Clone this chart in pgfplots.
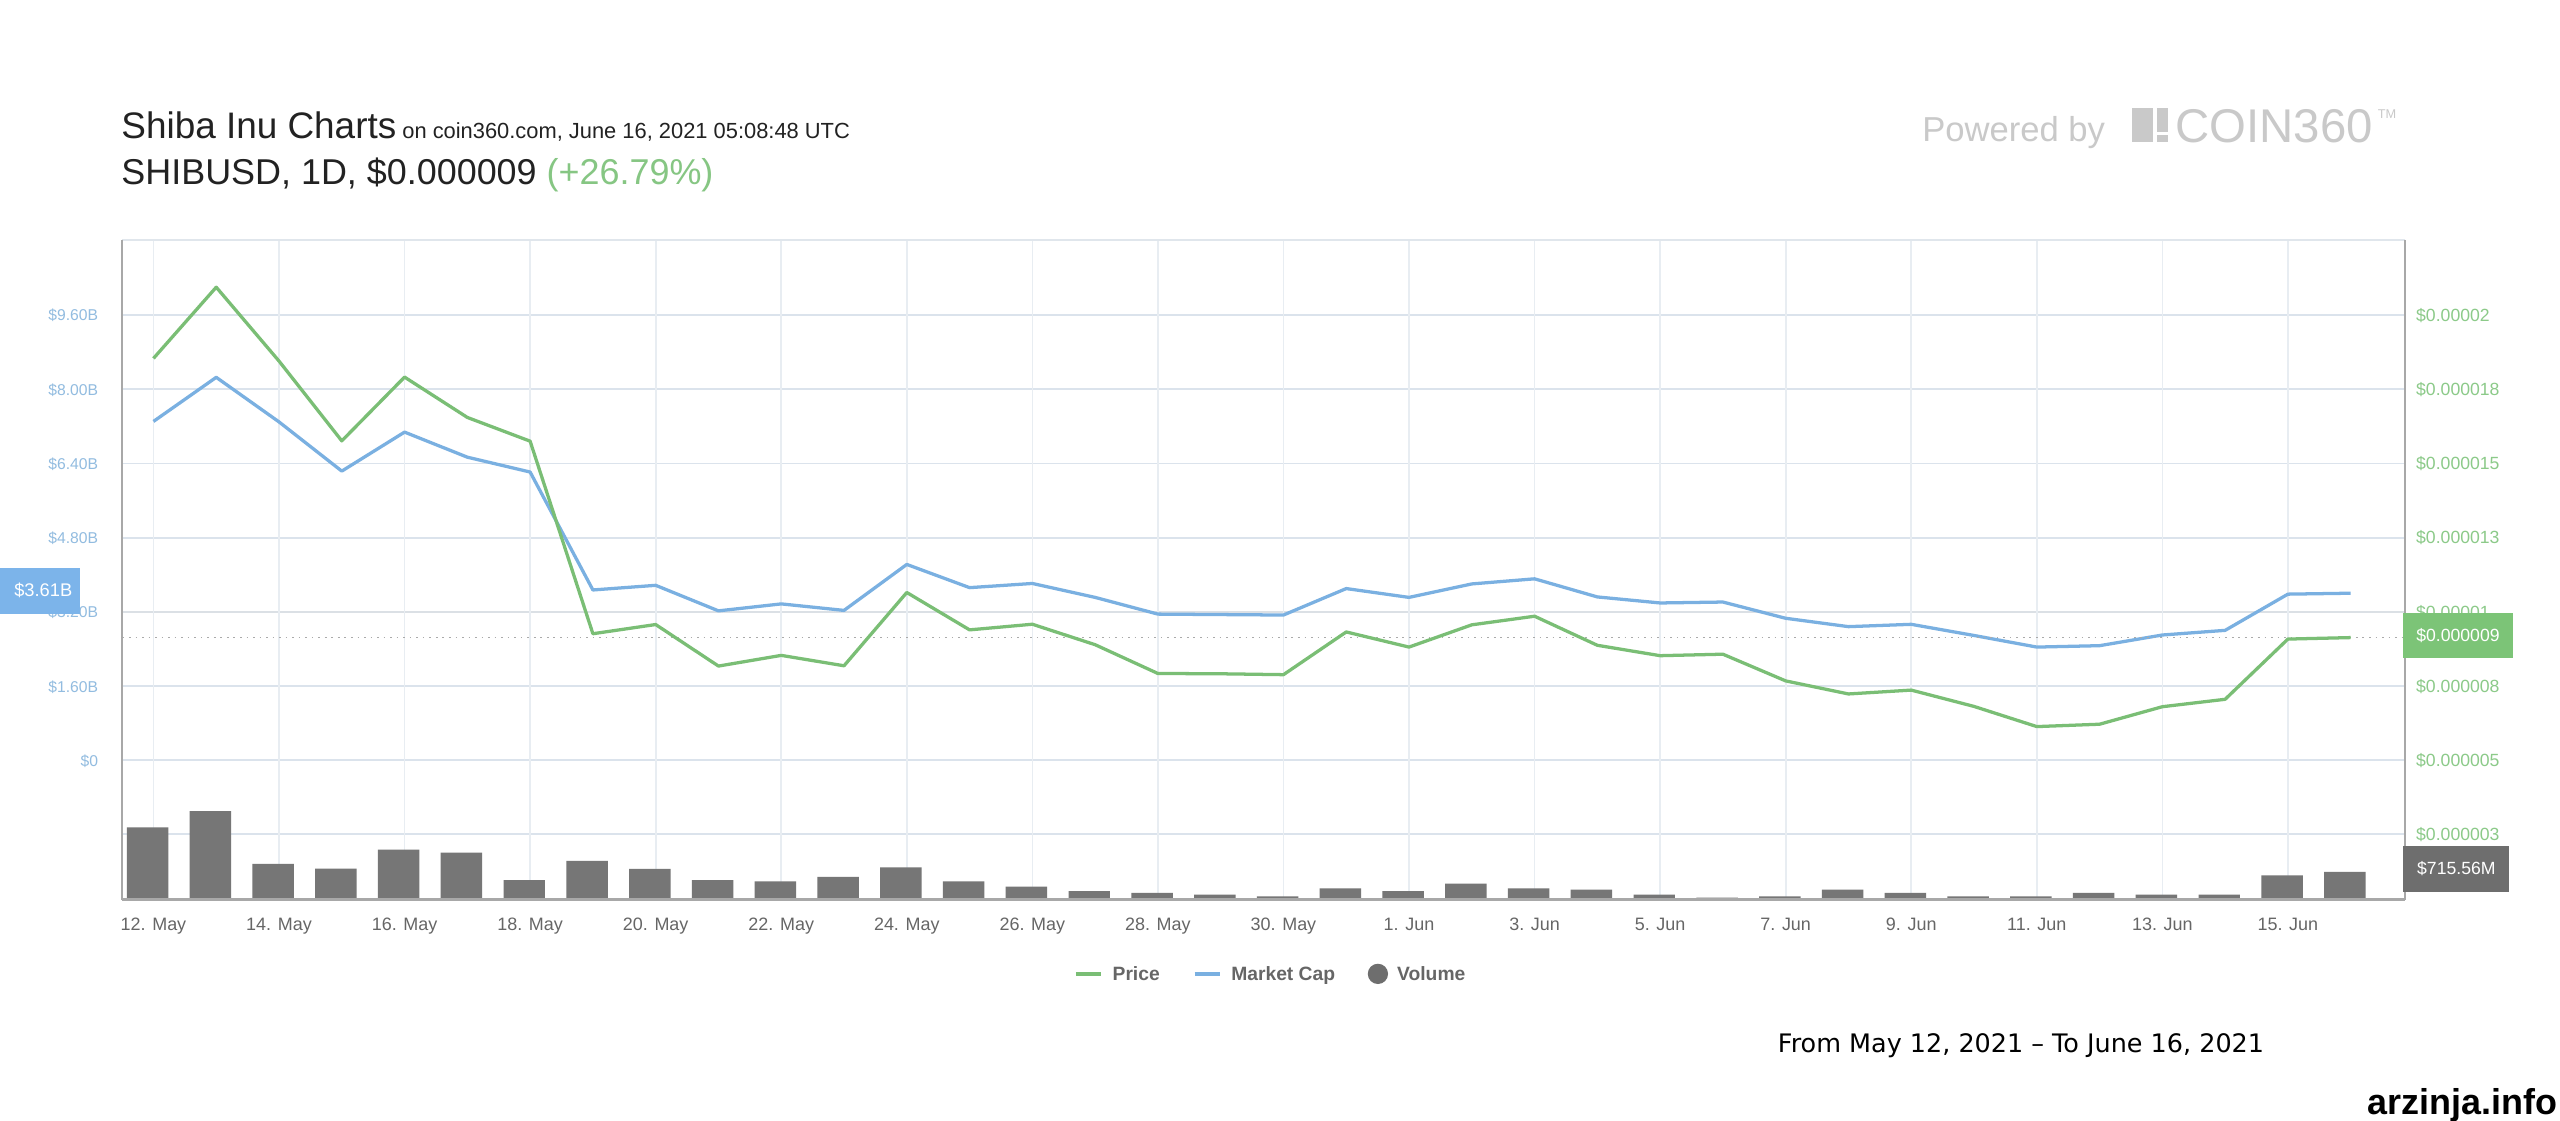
\documentclass[border=0pt]{standalone}
\usepackage{fontspec}
\setmainfont{Liberation Sans}
\newfontfamily\dejavu{DejaVu Sans}
\usepackage{pgfplots}
\pgfplotsset{compat=1.18}

\definecolor{priceGreen}{RGB}{122,190,117}
\definecolor{capBlue}{RGB}{122,176,225}
\definecolor{barGray}{RGB}{118,118,118}
\definecolor{capLabel}{RGB}{146,188,224}
\definecolor{priceLabel}{RGB}{140,202,137}
\definecolor{hgrid}{RGB}{219,227,236}
\definecolor{hgridDark}{RGB}{219,224,229}
\definecolor{vgrid}{RGB}{232,237,242}
\definecolor{tickGray}{RGB}{102,102,102}
\definecolor{legGray}{RGB}{102,102,102}
\definecolor{logoGray}{RGB}{201,201,201}
\definecolor{titleText}{RGB}{34,34,34}
\definecolor{pctGreen}{RGB}{134,198,131}
\definecolor{boxBlue}{RGB}{124,180,234}
\definecolor{boxGreen}{RGB}{124,196,119}
\definecolor{boxGray}{RGB}{110,110,110}
\definecolor{frameGray}{RGB}{168,168,168}
\definecolor{topGray}{RGB}{224,230,236}
\definecolor{dotGray}{RGB}{170,170,170}

\pgfplotstableread{
d v
0 7.31
1 8.26
2 7.30
3 6.24
4 7.08
5 6.54
6 6.22
7 3.68
8 3.78
9 3.23
10 3.38
11 3.24
12 4.23
13 3.73
14 3.82
15 3.52
16 3.16
17 3.15
18 3.14
19 3.71
20 3.52
21 3.81
22 3.92
23 3.53
24 3.40
25 3.42
26 3.07
27 2.89
28 2.94
29 2.70
30 2.45
31 2.48
32 2.71
33 2.81
34 3.59
35 3.61
}\captable

\pgfplotstableread{
d p
0 18.54
1 20.94
2 18.45
3 15.76
4 17.91
5 16.55
6 15.75
7 9.26
8 9.57
9 8.17
10 8.53
11 8.18
12 10.65
13 9.39
14 9.58
15 8.89
16 7.92
17 7.91
18 7.88
19 9.32
20 8.81
21 9.56
22 9.85
23 8.87
24 8.52
25 8.57
26 7.67
27 7.23
28 7.36
29 6.81
30 6.13
31 6.21
32 6.80
33 7.05
34 9.08
35 9.13
}\pricetable

\pgfplotstableread{
d vol
0 1872
1 2287
2 922
3 803
4 1293
5 1217
6 507
7 1002
8 795
9 507
10 473
11 588
12 837
13 473
14 338
15 216
16 173
17 131
18 85
19 292
20 216
21 414
22 292
23 258
24 131
25 51
26 85
27 258
28 173
29 85
30 85
31 173
32 131
33 131
34 630
35 716
}\voltable

\pgfplotsset{
 base/.style={at={(37.5pt,67.5pt)}, anchor=south west, width=699pt, height=202pt,
   scale only axis, xmin=-0.494, xmax=35.864, axis line style={draw=none},
   major tick length=0pt, tick style={draw=none}},
}

\begin{document}
\begin{tikzpicture}
\useasboundingbox (0,0) rectangle (784pt,343pt);
\fill[white] (0,0) rectangle (784pt,343pt);

% Axis A: horizontal grid and price labels (right)
\begin{axis}[base, ymin=0.299, ymax=22.531, xtick=\empty,
  ytick={2.5,5,7.5,10,12.5,15,17.5,20},
  yticklabels={\$0.000003,\$0.000005,\$0.000008,\$0.00001,\$0.000013,\$0.000015,\$0.000018,\$0.00002},
  ytick pos=right, yticklabel pos=right,
  ymajorgrids, major grid style={hgrid, line width=0.55pt},
  yticklabel style={font=\fontsize{5.4}{6}\selectfont, text=priceLabel, anchor=base west,
    inner sep=0pt, xshift=3.25pt, yshift=-1.93pt}]
\addplot[hgridDark, line width=0.75pt, forget plot] coordinates {(-0.494,10) (35.864,10)};
\end{axis}

% Axis B: volume bars, vertical grid, date labels
\begin{axis}[base, ymin=0, ymax=17075, ytick=\empty,
  xtick={0,2,...,34},
  xticklabels={12. May,14. May,16. May,18. May,20. May,22. May,24. May,26. May,28. May,30. May,1. Jun,3. Jun,5. Jun,7. Jun,9. Jun,11. Jun,13. Jun,15. Jun},
  xmajorgrids, major grid style={vgrid, line width=0.5pt},
  xticklabel style={font=\fontsize{5.5}{6}\selectfont, text=tickGray, anchor=base,
    inner sep=0pt, yshift=-9.45pt}]
\addplot[ybar, bar width=12.7pt, bar shift=-1.8pt, fill=barGray, draw=none] table[x=d, y=vol] {\voltable};
\end{axis}

% Axis C: market cap (left)
\begin{axis}[base, ymin=-2.989, ymax=11.218, xtick=\empty,
  ytick={0,1.6,3.2,4.8,6.4,8,9.6},
  yticklabels={\$0,\$1.60B,\$3.20B,\$4.80B,\$6.40B,\$8.00B,\$9.60B},
  ytick pos=left,
  yticklabel style={font=\fontsize{4.8}{6}\selectfont, text=capLabel, anchor=base east,
    inner sep=0pt, xshift=-7.25pt, yshift=-1.72pt}]
\addplot[capBlue, line width=1pt, line join=round] table[x=d, y=v] {\captable};
\end{axis}

% Axis D: price line, current price line, legend
\begin{axis}[base, ymin=0.299, ymax=22.531, xtick=\empty, ytick=\empty,
  legend style={at={(0.41652,-0.11262)}, anchor=west, draw=none, fill=none, inner sep=0pt,
    legend columns=-1, font=\fontsize{5.9}{7}\selectfont\bfseries, text=legGray,
    nodes={inner sep=0pt, text depth=0pt},
    /tikz/every odd column/.append style={column sep=2.8pt},
    /tikz/every even column/.append style={column sep=10pt}}]
\addlegendimage{legend image code/.code={\draw[priceGreen, line width=1.3pt] (0pt,0pt) -- (7.8pt,0pt);}}
\addlegendimage{legend image code/.code={\draw[capBlue, line width=1.3pt] (0pt,0pt) -- (7.8pt,0pt);}}
\addlegendimage{legend image code/.code={\fill[boxGray] (2.9pt,0pt) circle (2.9pt);}}
\addplot[dotGray, line width=0.5pt, dash pattern=on 0.5pt off 1.5pt, forget plot] coordinates {(-0.494,9.13) (35.864,9.13)};
\addplot[priceGreen, line width=1pt, line join=round, forget plot] table[x=d, y=p] {\pricetable};
\legend{Price,Market Cap,Volume}
\end{axis}

\begin{scope}[shift={(0pt,343pt)}, x=0.5pt, y=-0.5pt]
% frame
\draw[topGray, line width=0.6pt] (75,147) -- (1473,147);
\draw[frameGray, line width=0.6pt] (75,147) -- (75,551);
\draw[frameGray, line width=0.6pt] (1473,147) -- (1473,551);
\draw[frameGray, line width=0.8pt] (75,551) -- (1473,551);
% value boxes
\fill[boxBlue] (0,347.6) rectangle (48.7,376);
\node[text=white, font=\fontsize{5.6}{6}\selectfont, inner sep=0pt] at (26.5,361.8) {\$3.61B};
\fill[boxGreen] (1472,375.3) rectangle (1539,403.2);
\node[text=white, font=\fontsize{5.4}{6}\selectfont, inner sep=0pt] at (1505.5,389.3) {\$0.000009};
\fill[boxGray] (1472,518.3) rectangle (1537,546.2);
\node[text=white, font=\fontsize{5.4}{6}\selectfont, inner sep=0pt] at (1504.5,532.2) {\$715.56M};
% titles
\node[anchor=base west, inner sep=0pt, text=titleText] at (74,84.7)
  {\fontsize{11.3}{13}\selectfont Shiba Inu Charts\fontsize{6.7}{8}\selectfont\ on coin360.com, June 16, 2021 05:08:48 UTC};
\node[anchor=base west, inner sep=0pt, text=titleText] at (74,113.3)
  {\fontsize{11}{13}\selectfont SHIBUSD, 1D, \$0.000009 \textcolor{pctGreen}{(+26.79\%)}};
% logo
\node[anchor=base west, inner sep=0pt, text=logoGray] at (1177,86.7) {\fontsize{10.6}{12}\selectfont Powered by};
\fill[logoGray] (1306,66) rectangle (1318.6,86.8);
\fill[logoGray] (1321,66) rectangle (1328,80.6);
\fill[logoGray] (1321,82.4) rectangle (1328,86.8);
\node[anchor=base west, inner sep=0pt, text=logoGray] at (1332,87.2) {\fontsize{14.5}{16}\selectfont COIN360};
\node[anchor=north west, inner sep=0pt, text=logoGray] at (1456,67) {\fontsize{3.9}{4}\selectfont TM};
% footer
\node[anchor=base west, inner sep=0pt, text=black] at (1088.6,644.6)
  {\dejavu\fontsize{7.8}{9}\selectfont From May 12, 2021 – To June 16, 2021};
\node[anchor=base west, inner sep=0pt, text=black] at (1449.6,682.4)
  {\fontsize{11}{12}\selectfont\bfseries arzinja.info};
\end{scope}
\end{tikzpicture}
\end{document}
